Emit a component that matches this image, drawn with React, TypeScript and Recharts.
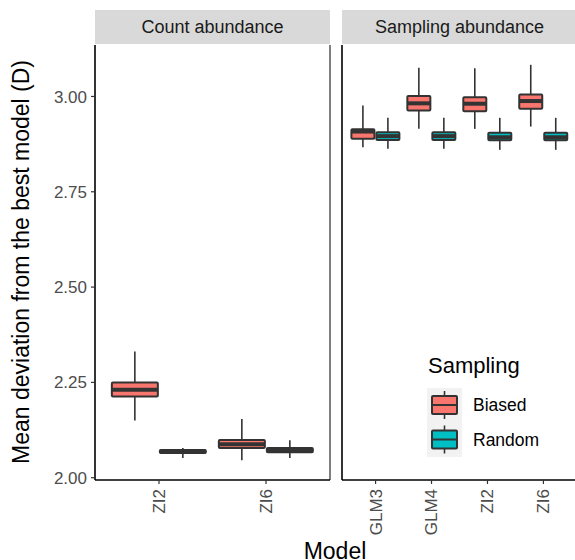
import React from 'react'
import { ComposedChart, Bar, XAxis, YAxis, Legend } from 'recharts'

// facet categories
const countModels = ['ZI2', 'ZI6']
const samplingModels = ['GLM3', 'GLM4', 'ZI2', 'ZI6']

// each box: [lower whisker, Q1, median, Q3, upper whisker]
const countBiased = [
  [2.150, 2.213, 2.231, 2.250, 2.331],
  [2.046, 2.078, 2.088, 2.099, 2.154],
]
const countRandom = [
  [2.052, 2.065, 2.068, 2.073, 2.078],
  [2.052, 2.067, 2.072, 2.078, 2.098],
]
const samplingBiased = [
  [2.867, 2.889, 2.908, 2.914, 2.976],
  [2.915, 2.963, 2.982, 3.001, 3.075],
  [2.915, 2.961, 2.981, 2.998, 3.074],
  [2.921, 2.968, 2.988, 3.005, 3.083],
]
const samplingRandom = [
  [2.863, 2.886, 2.896, 2.906, 2.944],
  [2.863, 2.886, 2.896, 2.906, 2.944],
  [2.860, 2.885, 2.893, 2.905, 2.944],
  [2.860, 2.885, 2.893, 2.905, 2.944],
]

const yTicks = [2.0, 2.25, 2.5, 2.75, 3.0]
const samplingLevels = ['Biased', 'Random']

const BIASED = '#F8766D'
const RANDOM = '#00BFC4'
const INK = '#333333'
const FONT = "'Liberation Sans', Arial, sans-serif"
const Y_DOMAIN: [number, number] = [1.994, 3.135]

const buildRows = (models: string[], biased: number[][], random: number[][]) =>
  models.map((m, i) => ({ model: m, biased: biased[i], random: random[i] }))

const countRows = buildRows(countModels, countBiased, countRandom)
const samplingRows = buildRows(samplingModels, samplingBiased, samplingRandom)

// box drawn inside the whisker-range bar, scaled from the bar's own geometry
const makeBox = (key: 'biased' | 'random', fill: string) => (props: any) => {
  const { x, y, width, height, payload } = props
  const s: number[] = payload[key]
  const lo = s[0]
  const hi = s[4]
  const top = Math.min(y, y + height)
  const h = Math.abs(height)
  const py = (v: number) => top + ((hi - v) / (hi - lo)) * h
  const cx = x + width / 2
  return (
    <g>
      <line x1={cx} x2={cx} y1={py(hi)} y2={py(lo)} stroke={INK} strokeWidth={1.6} />
      <rect
        x={x + 1}
        y={py(s[3])}
        width={width - 2}
        height={py(s[1]) - py(s[3])}
        fill={fill}
        stroke={INK}
        strokeWidth={2}
        rx={1}
      />
      <line x1={x + 1} x2={x + width - 1} y1={py(s[2])} y2={py(s[2])} stroke={INK} strokeWidth={4} />
    </g>
  )
}

const RotTick = (props: any) => {
  const { x, y, payload } = props
  return (
    <text
      transform={`translate(${x},${y + 3}) rotate(-90)`}
      textAnchor="end"
      dy="0.35em"
      fontSize={17}
      fill="#4D4D4D"
      fontFamily={FONT}
    >
      {payload.value}
    </text>
  )
}

const LegendBox = () => {
  const keys = samplingLevels.map((lab, i) => ({ lab, fill: i === 0 ? BIASED : RANDOM, y0: 36 + i * 34.5 }))
  return (
    <svg width={130} height={110} style={{ fontFamily: FONT }}>
      <text x={1} y={21} fontSize={22} fill="#000">Sampling</text>
      <rect x={0} y={36} width={35} height={69} fill="#F2F2F2" />
      {keys.map((k) => (
        <g key={k.lab}>
          <line x1={17.5} x2={17.5} y1={k.y0 + 3} y2={k.y0 + 31} stroke={INK} strokeWidth={1.6} />
          <rect x={5} y={k.y0 + 8} width={25} height={18} fill={k.fill} stroke={INK} strokeWidth={2} rx={1} />
          <line x1={5} x2={30} y1={k.y0 + 17} y2={k.y0 + 17} stroke={INK} strokeWidth={2} />
          <text x={46} y={k.y0 + 23} fontSize={17.5} fill="#000">{k.lab}</text>
        </g>
      ))}
    </svg>
  )
}

const axisLine = { stroke: '#000', strokeWidth: 1.6 }
const tickLine = { stroke: INK, strokeWidth: 1.2 }

const App: React.FC = () => {
  return (
    <div style={{ position: 'absolute', left: 0, top: 0, width: 575, height: 560, overflow: 'hidden', background: '#fff', fontFamily: FONT }}>
      <svg width={575} height={560} style={{ position: 'absolute', left: 0, top: 0 }}>
        <rect x={95} y={10} width={235} height={34} fill="#D9D9D9" />
        <text x={212.5} y={27} dominantBaseline="central" textAnchor="middle" fontSize={18} fill="#1A1A1A">
          Count abundance
        </text>
        <rect x={342} y={10} width={235} height={34} fill="#D9D9D9" />
        <text x={459.5} y={27} dominantBaseline="central" textAnchor="middle" fontSize={18} fill="#1A1A1A">
          Sampling abundance
        </text>
        <line x1={330} x2={330} y1={45} y2={480} stroke="#000" strokeWidth={1} />
        <text transform="translate(29,262) rotate(-90)" textAnchor="middle" fontSize={23} fill="#000">
          Mean deviation from the best model (D)
        </text>
        <text x={335} y={559} textAnchor="middle" fontSize={23} fill="#000">
          Model
        </text>
      </svg>

      <div style={{ position: 'absolute', left: 0, top: 0 }}>
        <ComposedChart
          width={330}
          height={560}
          data={countRows}
          margin={{ top: 45, right: 0, bottom: 0, left: 0 }}
          barCategoryGap="5%"
          barGap={0}
        >
          <XAxis
            dataKey="model"
            height={80}
            padding={{ left: 10.5, right: 10.5 }}
            axisLine={axisLine}
            tickLine={tickLine}
            tickSize={4}
            tick={<RotTick />}
            interval={0}
          />
          <YAxis
            type="number"
            domain={Y_DOMAIN}
            ticks={yTicks}
            allowDataOverflow
            width={95}
            axisLine={axisLine}
            tickLine={tickLine}
            tickSize={4}
            tickMargin={4}
            tickFormatter={(v: number) => v.toFixed(2)}
            tick={{ fill: '#4D4D4D', fontSize: 17, fontFamily: FONT }}
          />
          <Bar dataKey={(d: any) => [d.biased[0], d.biased[4]]} shape={makeBox('biased', BIASED)} isAnimationActive={false} />
          <Bar dataKey={(d: any) => [d.random[0], d.random[4]]} shape={makeBox('random', RANDOM)} isAnimationActive={false} />
        </ComposedChart>
      </div>

      <div style={{ position: 'absolute', left: 341, top: 0 }}>
        <ComposedChart
          width={236}
          height={560}
          data={samplingRows}
          margin={{ top: 45, right: 0, bottom: 0, left: 0 }}
          barCategoryGap="5%"
          barGap={0}
        >
          <XAxis
            dataKey="model"
            height={80}
            padding={{ left: 5.6, right: 5.6 }}
            axisLine={axisLine}
            tickLine={tickLine}
            tickSize={4}
            tick={<RotTick />}
            interval={0}
          />
          <YAxis
            type="number"
            domain={Y_DOMAIN}
            ticks={yTicks}
            allowDataOverflow
            width={1}
            axisLine={axisLine}
            tickLine={false}
            tick={false}
          />
          <Legend
            layout="horizontal"
            verticalAlign="middle"
            align="center"
            wrapperStyle={{ left: 86, top: 352, width: 130, height: 110 }}
            content={<LegendBox />}
          />
          <Bar name="Biased" dataKey={(d: any) => [d.biased[0], d.biased[4]]} shape={makeBox('biased', BIASED)} isAnimationActive={false} />
          <Bar name="Random" dataKey={(d: any) => [d.random[0], d.random[4]]} shape={makeBox('random', RANDOM)} isAnimationActive={false} />
        </ComposedChart>
      </div>
    </div>
  )
}

export default App
